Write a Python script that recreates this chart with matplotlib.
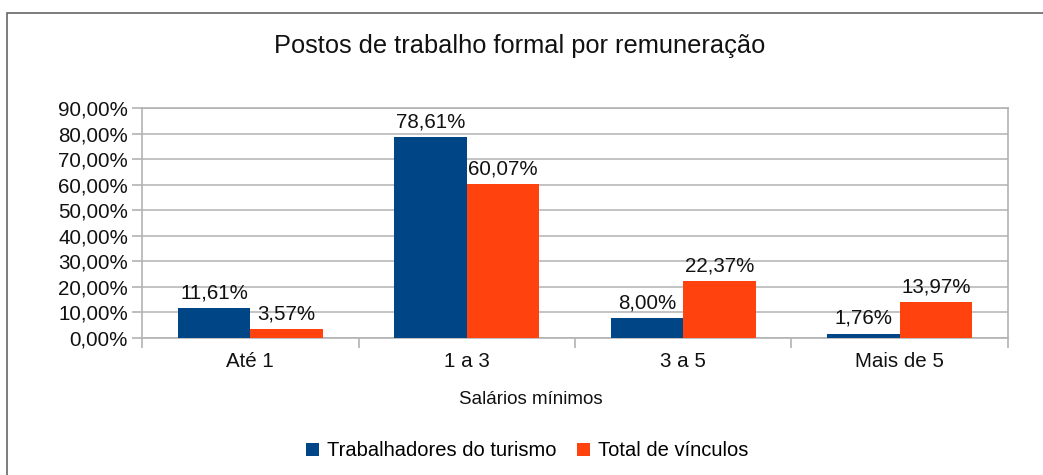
import matplotlib
matplotlib.use("Agg")
import matplotlib.pyplot as plt
from matplotlib.patches import Rectangle
import numpy as np

categories = ["Até 1", "1 a 3", "3 a 5", "Mais de 5"]
turismo = [11.61, 78.61, 8.00, 1.76]
total = [3.57, 60.07, 22.37, 13.97]
series_names = ["Trabalhadores do turismo", "Total de vínculos"]
yticks = [0, 10, 20, 30, 40, 50, 60, 70, 80, 90]

plt.rcParams['font.family'] = ['Liberation Sans', 'DejaVu Sans']

W, H = 1043, 475
fig = plt.figure(figsize=(W/100, H/100), dpi=100)
fig.patch.set_facecolor('white')

# outer border
fig.patches.append(Rectangle((7/W, -0.1), 1.2, 1 - 13/H + 0.1, transform=fig.transFigure,
                             fill=False, edgecolor='#666666', linewidth=1.2))

ax = fig.add_axes([142/W, 1 - 338/H, (1008-142)/W, (338-108)/H])
blue = '#004586'
orange = '#ff420e'
x = np.arange(len(categories))
bw = 0.335
b1 = ax.bar(x - bw/2, turismo, bw, color=blue, label=series_names[0], zorder=3)
b2 = ax.bar(x + bw/2, total, bw, color=orange, label=series_names[1], zorder=3)

def fmt(v):
    return f"{v:.2f}".replace('.', ',') + '%'

for bars, vals in ((b1, turismo), (b2, total)):
    for r, v in zip(bars, vals):
        ax.annotate(fmt(v), (r.get_x() + r.get_width()/2, v), xytext=(0, 4),
                    textcoords='offset points', ha='center', va='bottom', fontsize=14.8,
                    color='#111111')

ax.set_xlim(-0.5, len(categories) - 0.5)
ax.set_ylim(0, 90)
ax.set_yticks(yticks)
ax.set_yticklabels([fmt(v) for v in yticks], fontsize=14.8, color='#111111')
ax.set_xticks(x)
ax.set_xticklabels(categories, fontsize=14.8, color='#111111')
ax.tick_params(axis='x', which='major', length=0, pad=10)
ax.set_xticks(np.arange(-0.5, len(categories)), minor=True)
ax.tick_params(axis='x', which='minor', length=7, color='#b3b3b3', width=1.2)
ax.tick_params(axis='y', length=7, color='#b3b3b3', width=1.2, pad=3)
ax.grid(axis='y', color='#b3b3b3', linewidth=1.1, zorder=0)
for s in ax.spines.values():
    s.set_color('#b3b3b3')
    s.set_linewidth(1.2)

fig.text(531/W, 1 - 399/H, "Salários mínimos", ha='center', va='center',
         fontsize=13.5, color='#111111')

fig.text(520/W, 1 - 46/H, "Postos de trabalho formal por remuneração", ha='center', va='center',
         fontsize=18.3, color='#111111')

fig.legend(handles=[b1, b2], loc='center', bbox_to_anchor=(527/W, 1 - 451/H), ncol=2, frameon=False,
           fontsize=14.5, handlelength=0.65, handleheight=0.65, handletextpad=0.4, columnspacing=1.0)

fig.savefig("out.png", dpi=100)
